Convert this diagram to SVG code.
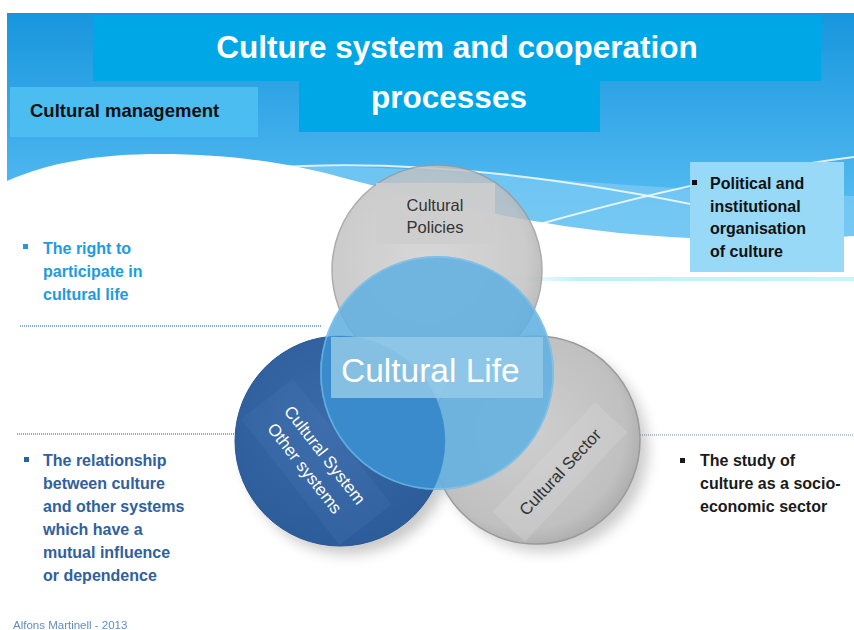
<svg xmlns="http://www.w3.org/2000/svg" width="854" height="630" viewBox="0 0 854 630">
<defs>
<linearGradient id="bg" x1="0" y1="0" x2="0" y2="1">
<stop offset="0" stop-color="#1796de"/>
<stop offset="0.6" stop-color="#4fb7ef"/>
<stop offset="1" stop-color="#6cc6f4"/>
</linearGradient>
<linearGradient id="cyan" x1="0" y1="0" x2="1" y2="0">
<stop offset="0" stop-color="#c8f3f8" stop-opacity="0"/>
<stop offset="0.2" stop-color="#bff0f7"/>
<stop offset="1" stop-color="#c8f4fa"/>
</linearGradient>
<radialGradient id="gray" cx="0.45" cy="0.45" r="0.6">
<stop offset="0" stop-color="#cfcfcf"/>
<stop offset="0.8" stop-color="#c0c0c0"/>
<stop offset="1" stop-color="#a8a8a8"/>
</radialGradient>
<radialGradient id="dark" cx="0.45" cy="0.4" r="0.6">
<stop offset="0" stop-color="#3a6aa8"/>
<stop offset="1" stop-color="#2d5c9b"/>
</radialGradient>
<filter id="blur" x="-30%" y="-30%" width="160%" height="160%">
<feGaussianBlur stdDeviation="7"/>
</filter>
<clipPath id="clipLight"><circle cx="437" cy="373" r="117"/></clipPath>
<clipPath id="clipDark"><circle cx="340" cy="441" r="105"/></clipPath>
<clipPath id="clipSector"><circle cx="536" cy="440" r="104"/></clipPath>
</defs>
<style>
.t{font-family:"Liberation Sans",Arial,sans-serif}
.b{font-family:"Liberation Sans",Arial,sans-serif;font-weight:bold;font-size:16px}
.dots{stroke-width:2;stroke-dasharray:1 1;fill:none}
.wl{stroke:#ffffff;stroke-width:2;fill:none;opacity:0.8}
</style>
<rect width="854" height="630" fill="#ffffff"/>
<!-- background band -->
<rect x="7" y="13" width="847" height="290" fill="url(#bg)"/>
<path d="M260,168 C 420,160 560,188 854,196 L 854,240 C 700,246 600,236 540,222 C 450,205 360,185 260,168 Z" fill="#8dd2f6" opacity="0.55"/>
<path d="M7,181 C 50,162 100,154 160,154 C 240,154 300,166 340,177 C 420,198 480,212 540,222 C 640,240 760,243 854,236 L 854,630 L 0,630 L 0,181 Z" fill="#ffffff"/>
<path class="wl" d="M265,168 C 400,158 560,176 720,210"/>
<path class="wl" d="M540,224 C 640,196 750,170 854,157"/>
<rect x="510" y="277" width="344" height="4" fill="url(#cyan)"/>
<!-- separators -->
<g id="separators">
<line class="dots" x1="20" y1="326" x2="322" y2="326" stroke="#8ba8da"/>
<line class="dots" x1="17" y1="434" x2="240" y2="434" stroke="#8ba8da"/>
<line class="dots" x1="640" y1="435" x2="854" y2="435" stroke="#b9c2cf"/>
</g>
<!-- shadows -->
<circle cx="348" cy="450" r="104" fill="#000" opacity="0.22" filter="url(#blur)"/>
<circle cx="545" cy="449" r="103" fill="#000" opacity="0.2" filter="url(#blur)"/>
<g id="node-policies">
<circle cx="437" cy="270" r="105" fill="url(#gray)" stroke="#9a9a9a" stroke-width="1.5" opacity="0.82"/>
<rect x="376" y="183" width="119" height="61" fill="#cdcdcd" opacity="0.9"/>
<text class="t" x="435" y="211" font-size="16.5" fill="#333333" text-anchor="middle">Cultural</text>
<text class="t" x="435" y="233" font-size="16.5" fill="#333333" text-anchor="middle">Policies</text>
</g>
<g id="node-sector">
<circle cx="536" cy="440" r="104" fill="url(#gray)" stroke="#9a9a9a" stroke-width="1.5"/>
</g>
<g id="node-system">
<circle cx="340" cy="441" r="105" fill="url(#dark)" stroke="#2a5590" stroke-width="1"/>
</g>
<g id="node-life">
<circle cx="437" cy="373" r="117" fill="#62b1e1" opacity="0.88"/>
<circle cx="340" cy="441" r="105" fill="#3a8bcb" clip-path="url(#clipLight)"/>
<circle cx="437" cy="373" r="116" fill="none" stroke="#8fd0f2" stroke-width="1.5" opacity="0.5"/>
<rect x="331" y="337" width="212" height="61" fill="#93c9e8" opacity="0.85"/>
<text class="t" x="341" y="382" font-size="33.5" fill="#ffffff">Cultural Life</text>
</g>
<g id="label-system" clip-path="url(#clipDark)">
<g transform="translate(325,455) rotate(52)">
<rect x="-80" y="-22" width="160" height="66" fill="#5a86c0" opacity="0.15"/>
<text class="t" x="0" y="6" font-size="17" fill="#ffffff" text-anchor="middle">Cultural System</text>
<text class="t" x="-2" y="30" font-size="17" fill="#ffffff" text-anchor="middle">Other systems</text>
</g>
</g>
<g id="label-sector" clip-path="url(#clipSector)">
<g transform="translate(560,472) rotate(-47)">
<rect x="-75" y="-22" width="150" height="44" fill="#d6d6d6" opacity="0.35"/>
<text class="t" x="0" y="6" font-size="16.8" fill="#333333" text-anchor="middle">Cultural Sector</text>
</g>
</g>
<!-- title -->
<g id="title">
<rect x="93" y="15" width="728" height="66" fill="#00a7e7"/>
<rect x="299" y="80" width="301" height="52" fill="#00a7e7"/>
<text x="457" y="58" font-family="Liberation Sans, Arial, sans-serif" font-weight="bold" font-size="31.5" fill="#ffffff" text-anchor="middle">Culture system and cooperation</text>
<text x="449" y="108" font-family="Liberation Sans, Arial, sans-serif" font-weight="bold" font-size="31.5" fill="#ffffff" text-anchor="middle">processes</text>
</g>
<g id="management">
<rect x="10" y="87" width="248" height="50" fill="#4bbdf0"/>
<text class="b" x="30" y="117" style="font-size:18.5px" fill="#111111">Cultural management</text>
</g>
<g id="political">
<rect x="690" y="162" width="154" height="110" fill="#98d9f8"/>
<rect x="692" y="180" width="5" height="5" fill="#111111"/>
<text class="b" fill="#111111"><tspan x="710" y="189">Political and</tspan><tspan x="710" y="211.7">institutional</tspan><tspan x="710" y="234.4">organisation</tspan><tspan x="710" y="257">of culture</tspan></text>
</g>
<g id="right-participate">
<rect x="23" y="244" width="5" height="5" fill="#1e9be0"/>
<text class="b" fill="#1e9be0"><tspan x="43" y="254">The right to</tspan><tspan x="43" y="277">participate in</tspan><tspan x="43" y="300">cultural life</tspan></text>
</g>
<g id="relationship">
<rect x="24" y="457" width="5" height="5" fill="#30609e"/>
<text class="b" fill="#30609e"><tspan x="43" y="466">The relationship</tspan><tspan x="43" y="489">between culture</tspan><tspan x="43" y="512">and other systems</tspan><tspan x="43" y="535">which have a</tspan><tspan x="43" y="558">mutual influence</tspan><tspan x="43" y="581">or dependence</tspan></text>
</g>
<g id="study">
<rect x="680" y="458" width="5" height="5" fill="#1a1a1a"/>
<text class="b" fill="#1a1a1a"><tspan x="700" y="466">The study of</tspan><tspan x="700" y="489">culture as a socio-</tspan><tspan x="700" y="512">economic sector</tspan></text>
</g>
<text class="t" x="13" y="629" font-size="11.5" fill="#3a6fb0" opacity="0.8">Alfons Martinell - 2013</text>
</svg>
